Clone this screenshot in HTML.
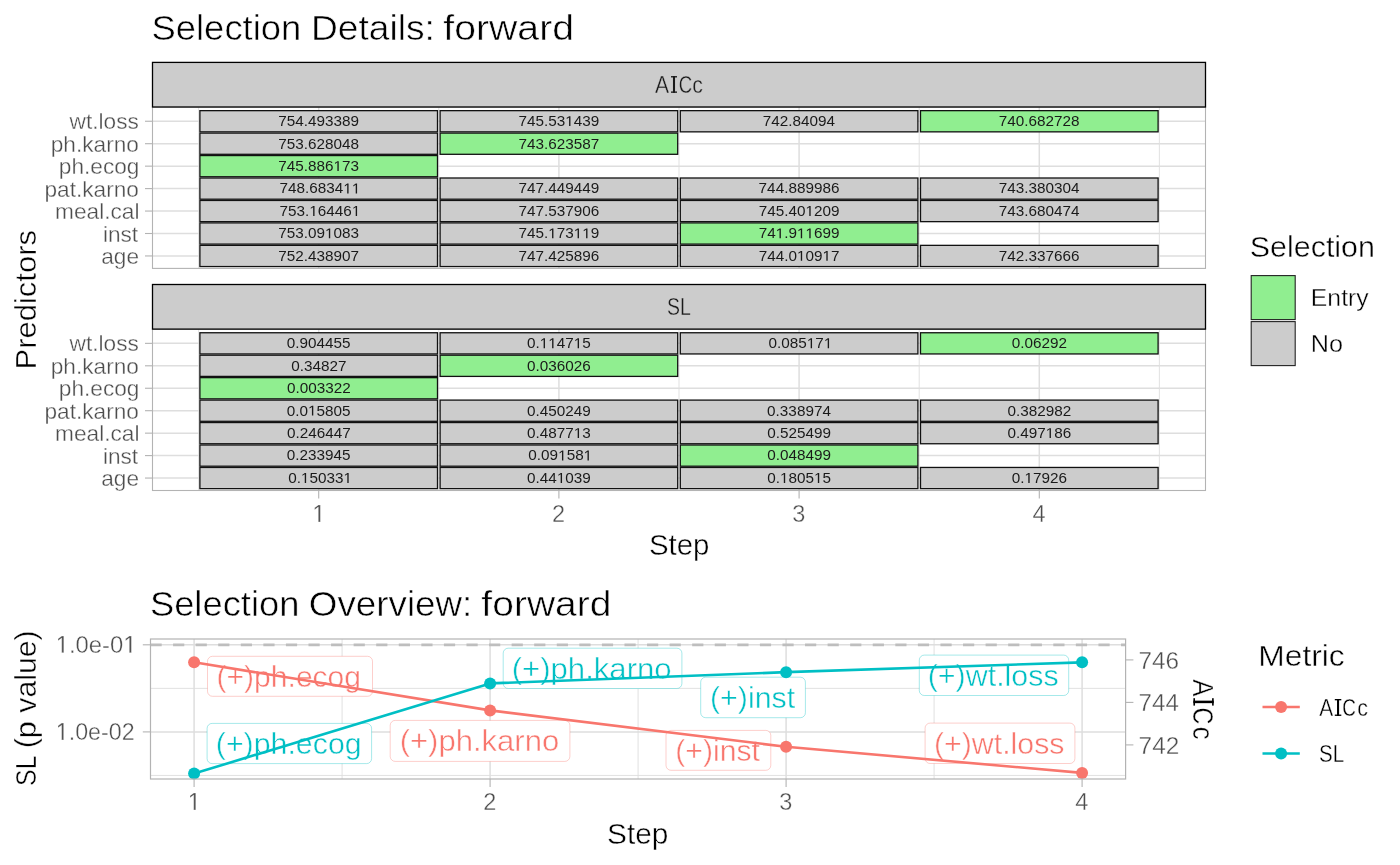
<!DOCTYPE html>
<html><head><meta charset="utf-8"><title>Selection Details</title>
<style>html,body{margin:0;padding:0;background:#fff;width:1400px;height:865px;overflow:hidden}
svg text{font-family:"Liberation Sans",sans-serif;font-kerning:none;white-space:pre}</style>
</head><body>
<svg width="1400" height="865" viewBox="0 0 1400 865" style="position:absolute;left:0;top:0;will-change:transform" font-family="Liberation Sans" >
<rect x="0" y="0" width="1400" height="865" fill="#fff"/>
<text transform="translate(151.45,39.90) scale(1.0266,1)" font-size="35.50" fill="#000" stroke="#fff" stroke-width="0.53">Selection</text>
<text transform="translate(311.05,39.90) scale(1.0462,1)" font-size="35.50" fill="#000" stroke="#fff" stroke-width="0.53">Details:</text>
<text transform="translate(443.35,39.90) scale(1.1040,1)" font-size="35.50" fill="#000" stroke="#fff" stroke-width="0.53">forward</text>
<line x1="152.5" x2="1205.5" y1="121.25" y2="121.25" stroke="#DEDEDE" stroke-width="1.5"/>
<line x1="152.5" x2="1205.5" y1="143.70" y2="143.70" stroke="#DEDEDE" stroke-width="1.5"/>
<line x1="152.5" x2="1205.5" y1="166.15" y2="166.15" stroke="#DEDEDE" stroke-width="1.5"/>
<line x1="152.5" x2="1205.5" y1="188.60" y2="188.60" stroke="#DEDEDE" stroke-width="1.5"/>
<line x1="152.5" x2="1205.5" y1="211.05" y2="211.05" stroke="#DEDEDE" stroke-width="1.5"/>
<line x1="152.5" x2="1205.5" y1="233.50" y2="233.50" stroke="#DEDEDE" stroke-width="1.5"/>
<line x1="152.5" x2="1205.5" y1="255.95" y2="255.95" stroke="#DEDEDE" stroke-width="1.5"/>
<line x1="318.70" x2="318.70" y1="107.0" y2="268.4" stroke="#DEDEDE" stroke-width="1.5"/>
<line x1="558.90" x2="558.90" y1="107.0" y2="268.4" stroke="#DEDEDE" stroke-width="1.5"/>
<line x1="799.10" x2="799.10" y1="107.0" y2="268.4" stroke="#DEDEDE" stroke-width="1.5"/>
<line x1="1039.30" x2="1039.30" y1="107.0" y2="268.4" stroke="#DEDEDE" stroke-width="1.5"/>
<line x1="198.60" x2="198.60" y1="107.0" y2="268.4" stroke="#DEDEDE" stroke-width="0.9"/>
<line x1="438.80" x2="438.80" y1="107.0" y2="268.4" stroke="#DEDEDE" stroke-width="0.9"/>
<line x1="679.00" x2="679.00" y1="107.0" y2="268.4" stroke="#DEDEDE" stroke-width="0.9"/>
<line x1="919.20" x2="919.20" y1="107.0" y2="268.4" stroke="#DEDEDE" stroke-width="0.9"/>
<line x1="1159.40" x2="1159.40" y1="107.0" y2="268.4" stroke="#DEDEDE" stroke-width="0.9"/>
<rect x="199.90" y="110.65" width="237.60" height="21.20" fill="#CCCCCC" stroke="#111" stroke-width="1.3"/>
<rect x="440.10" y="110.65" width="237.60" height="21.20" fill="#CCCCCC" stroke="#111" stroke-width="1.3"/>
<rect x="680.30" y="110.65" width="237.60" height="21.20" fill="#CCCCCC" stroke="#111" stroke-width="1.3"/>
<rect x="920.50" y="110.65" width="237.60" height="21.20" fill="#90EE90" stroke="#111" stroke-width="1.3"/>
<rect x="199.90" y="133.10" width="237.60" height="21.20" fill="#CCCCCC" stroke="#111" stroke-width="1.3"/>
<rect x="440.10" y="133.10" width="237.60" height="21.20" fill="#90EE90" stroke="#111" stroke-width="1.3"/>
<rect x="199.90" y="155.55" width="237.60" height="21.20" fill="#90EE90" stroke="#111" stroke-width="1.3"/>
<rect x="199.90" y="178.00" width="237.60" height="21.20" fill="#CCCCCC" stroke="#111" stroke-width="1.3"/>
<rect x="440.10" y="178.00" width="237.60" height="21.20" fill="#CCCCCC" stroke="#111" stroke-width="1.3"/>
<rect x="680.30" y="178.00" width="237.60" height="21.20" fill="#CCCCCC" stroke="#111" stroke-width="1.3"/>
<rect x="920.50" y="178.00" width="237.60" height="21.20" fill="#CCCCCC" stroke="#111" stroke-width="1.3"/>
<rect x="199.90" y="200.45" width="237.60" height="21.20" fill="#CCCCCC" stroke="#111" stroke-width="1.3"/>
<rect x="440.10" y="200.45" width="237.60" height="21.20" fill="#CCCCCC" stroke="#111" stroke-width="1.3"/>
<rect x="680.30" y="200.45" width="237.60" height="21.20" fill="#CCCCCC" stroke="#111" stroke-width="1.3"/>
<rect x="920.50" y="200.45" width="237.60" height="21.20" fill="#CCCCCC" stroke="#111" stroke-width="1.3"/>
<rect x="199.90" y="222.90" width="237.60" height="21.20" fill="#CCCCCC" stroke="#111" stroke-width="1.3"/>
<rect x="440.10" y="222.90" width="237.60" height="21.20" fill="#CCCCCC" stroke="#111" stroke-width="1.3"/>
<rect x="680.30" y="222.90" width="237.60" height="21.20" fill="#90EE90" stroke="#111" stroke-width="1.3"/>
<rect x="199.90" y="245.35" width="237.60" height="21.20" fill="#CCCCCC" stroke="#111" stroke-width="1.3"/>
<rect x="440.10" y="245.35" width="237.60" height="21.20" fill="#CCCCCC" stroke="#111" stroke-width="1.3"/>
<rect x="680.30" y="245.35" width="237.60" height="21.20" fill="#CCCCCC" stroke="#111" stroke-width="1.3"/>
<rect x="920.50" y="245.35" width="237.60" height="21.20" fill="#CCCCCC" stroke="#111" stroke-width="1.3"/>
<text transform="translate(278.25,126.10) scale(1.0700,1)" font-size="14.30" fill="#1a1a1a">754.493389</text>
<g transform="translate(518.45,126.10) scale(1.0700,1)"><text x="0.00" font-size="14.30" fill="#1a1a1a">745.53</text><path d="M47.33,0.00 L47.33,-8.64 L45.11,-7.05 L45.11,-8.24 L47.44,-9.84 L48.60,-9.84 L48.60,0.00Z" fill="#1a1a1a"/><text x="51.69" font-size="14.30" fill="#1a1a1a">439</text></g>
<text transform="translate(762.77,126.10) scale(1.0700,1)" font-size="14.30" fill="#1a1a1a">742.84094</text>
<text transform="translate(998.82,126.10) scale(1.0700,1)" font-size="14.30" fill="#1a1a1a">740.682728</text>
<text transform="translate(278.22,148.55) scale(1.0700,1)" font-size="14.30" fill="#1a1a1a">753.628048</text>
<text transform="translate(518.47,148.55) scale(1.0700,1)" font-size="14.30" fill="#1a1a1a">743.623587</text>
<g transform="translate(278.22,171.00) scale(1.0700,1)"><text x="0.00" font-size="14.30" fill="#1a1a1a">745.886</text><path d="M55.29,0.00 L55.29,-8.64 L53.07,-7.05 L53.07,-8.24 L55.39,-9.84 L56.55,-9.84 L56.55,0.00Z" fill="#1a1a1a"/><text x="59.64" font-size="14.30" fill="#1a1a1a">73</text></g>
<g transform="translate(279.54,193.45) scale(1.0700,1)"><text x="0.00" font-size="14.30" fill="#1a1a1a">748.6834</text><path d="M63.24,0.00 L63.24,-8.64 L61.02,-7.05 L61.02,-8.24 L63.34,-9.84 L64.50,-9.84 L64.50,0.00Z" fill="#1a1a1a"/><path d="M71.19,0.00 L71.19,-8.64 L68.97,-7.05 L68.97,-8.24 L71.30,-9.84 L72.46,-9.84 L72.46,0.00Z" fill="#1a1a1a"/></g>
<text transform="translate(518.45,193.45) scale(1.0700,1)" font-size="14.30" fill="#1a1a1a">747.449449</text>
<text transform="translate(758.62,193.45) scale(1.0700,1)" font-size="14.30" fill="#1a1a1a">744.889986</text>
<text transform="translate(998.71,193.45) scale(1.0700,1)" font-size="14.30" fill="#1a1a1a">743.380304</text>
<g transform="translate(279.54,215.90) scale(1.0700,1)"><text x="0.00" font-size="14.30" fill="#1a1a1a">753.</text><path d="M31.43,0.00 L31.43,-8.64 L29.21,-7.05 L29.21,-8.24 L31.53,-9.84 L32.69,-9.84 L32.69,0.00Z" fill="#1a1a1a"/><text x="35.78" font-size="14.30" fill="#1a1a1a">6446</text><path d="M71.19,0.00 L71.19,-8.64 L68.97,-7.05 L68.97,-8.24 L71.30,-9.84 L72.46,-9.84 L72.46,0.00Z" fill="#1a1a1a"/></g>
<text transform="translate(518.42,215.90) scale(1.0700,1)" font-size="14.30" fill="#1a1a1a">747.537906</text>
<g transform="translate(758.65,215.90) scale(1.0700,1)"><text x="0.00" font-size="14.30" fill="#1a1a1a">745.40</text><path d="M47.33,0.00 L47.33,-8.64 L45.11,-7.05 L45.11,-8.24 L47.44,-9.84 L48.60,-9.84 L48.60,0.00Z" fill="#1a1a1a"/><text x="51.69" font-size="14.30" fill="#1a1a1a">209</text></g>
<text transform="translate(998.71,215.90) scale(1.0700,1)" font-size="14.30" fill="#1a1a1a">743.680474</text>
<g transform="translate(278.22,238.35) scale(1.0700,1)"><text x="0.00" font-size="14.30" fill="#1a1a1a">753.09</text><path d="M47.33,0.00 L47.33,-8.64 L45.11,-7.05 L45.11,-8.24 L47.44,-9.84 L48.60,-9.84 L48.60,0.00Z" fill="#1a1a1a"/><text x="51.69" font-size="14.30" fill="#1a1a1a">083</text></g>
<g transform="translate(518.45,238.35) scale(1.0700,1)"><text x="0.00" font-size="14.30" fill="#1a1a1a">745.</text><path d="M31.43,0.00 L31.43,-8.64 L29.21,-7.05 L29.21,-8.24 L31.53,-9.84 L32.69,-9.84 L32.69,0.00Z" fill="#1a1a1a"/><text x="35.78" font-size="14.30" fill="#1a1a1a">73</text><path d="M55.29,0.00 L55.29,-8.64 L53.07,-7.05 L53.07,-8.24 L55.39,-9.84 L56.55,-9.84 L56.55,0.00Z" fill="#1a1a1a"/><path d="M63.24,0.00 L63.24,-8.64 L61.02,-7.05 L61.02,-8.24 L63.34,-9.84 L64.50,-9.84 L64.50,0.00Z" fill="#1a1a1a"/><text x="67.60" font-size="14.30" fill="#1a1a1a">9</text></g>
<g transform="translate(758.65,238.35) scale(1.0700,1)"><text x="0.00" font-size="14.30" fill="#1a1a1a">74</text><path d="M19.50,0.00 L19.50,-8.64 L17.28,-7.05 L17.28,-8.24 L19.61,-9.84 L20.77,-9.84 L20.77,0.00Z" fill="#1a1a1a"/><text x="23.86" font-size="14.30" fill="#1a1a1a">.9</text><path d="M39.38,0.00 L39.38,-8.64 L37.16,-7.05 L37.16,-8.24 L39.49,-9.84 L40.64,-9.84 L40.64,0.00Z" fill="#1a1a1a"/><path d="M47.33,0.00 L47.33,-8.64 L45.11,-7.05 L45.11,-8.24 L47.44,-9.84 L48.60,-9.84 L48.60,0.00Z" fill="#1a1a1a"/><text x="51.69" font-size="14.30" fill="#1a1a1a">699</text></g>
<text transform="translate(278.27,260.80) scale(1.0700,1)" font-size="14.30" fill="#1a1a1a">752.438907</text>
<text transform="translate(518.42,260.80) scale(1.0700,1)" font-size="14.30" fill="#1a1a1a">747.425896</text>
<g transform="translate(758.67,260.80) scale(1.0700,1)"><text x="0.00" font-size="14.30" fill="#1a1a1a">744.0</text><path d="M39.38,0.00 L39.38,-8.64 L37.16,-7.05 L37.16,-8.24 L39.49,-9.84 L40.64,-9.84 L40.64,0.00Z" fill="#1a1a1a"/><text x="43.74" font-size="14.30" fill="#1a1a1a">09</text><path d="M63.24,0.00 L63.24,-8.64 L61.02,-7.05 L61.02,-8.24 L63.34,-9.84 L64.50,-9.84 L64.50,0.00Z" fill="#1a1a1a"/><text x="67.60" font-size="14.30" fill="#1a1a1a">7</text></g>
<text transform="translate(998.82,260.80) scale(1.0700,1)" font-size="14.30" fill="#1a1a1a">742.337666</text>
<rect x="152.5" y="107.0" width="1053.0" height="161.39999999999998" fill="none" stroke="#B3B3B3" stroke-width="1.1"/>
<rect x="152.5" y="62.4" width="1053.0" height="44.6" fill="#CCCCCC" stroke="#000" stroke-width="1.3"/>
<g transform="translate(0,92.80)"><text transform="translate(655.02,0) scale(0.8695,1)" font-size="24.30" fill="#1a1a1a" stroke="#CCCCCC" stroke-width="0.36">A</text><rect x="672.97" y="-16.70" width="2.07" height="16.70" fill="#1a1a1a"/><rect x="671.00" y="-16.70" width="6.00" height="1.34" fill="#1a1a1a"/><rect x="671.00" y="-1.34" width="6.00" height="1.34" fill="#1a1a1a"/><text transform="translate(678.65,0) scale(0.7668,1)" font-size="24.30" fill="#1a1a1a" stroke="#CCCCCC" stroke-width="0.36">C</text><text transform="translate(692.19,0) scale(0.8781,1)" font-size="24.30" fill="#1a1a1a" stroke="#CCCCCC" stroke-width="0.36">c</text></g>
<line x1="145.0" x2="152.5" y1="121.25" y2="121.25" stroke="#B3B3B3" stroke-width="1.1"/>
<text transform="translate(69.53,129.25) scale(1.0400,1)" font-size="21.80" fill="#4D4D4D" stroke="#fff" stroke-width="0.33">wt.loss</text>
<line x1="145.0" x2="152.5" y1="143.70" y2="143.70" stroke="#B3B3B3" stroke-width="1.1"/>
<text transform="translate(50.72,151.70) scale(1.0400,1)" font-size="21.80" fill="#4D4D4D" stroke="#fff" stroke-width="0.33">ph.karno</text>
<line x1="145.0" x2="152.5" y1="166.15" y2="166.15" stroke="#B3B3B3" stroke-width="1.1"/>
<text transform="translate(58.78,174.15) scale(1.0400,1)" font-size="21.80" fill="#4D4D4D" stroke="#fff" stroke-width="0.33">ph.ecog</text>
<line x1="145.0" x2="152.5" y1="188.60" y2="188.60" stroke="#B3B3B3" stroke-width="1.1"/>
<text transform="translate(44.42,196.60) scale(1.0400,1)" font-size="21.80" fill="#4D4D4D" stroke="#fff" stroke-width="0.33">pat.karno</text>
<line x1="145.0" x2="152.5" y1="211.05" y2="211.05" stroke="#B3B3B3" stroke-width="1.1"/>
<text transform="translate(55.09,219.05) scale(1.0400,1)" font-size="21.80" fill="#4D4D4D" stroke="#fff" stroke-width="0.33">meal.cal</text>
<line x1="145.0" x2="152.5" y1="233.50" y2="233.50" stroke="#B3B3B3" stroke-width="1.1"/>
<text transform="translate(102.88,241.50) scale(1.0400,1)" font-size="21.80" fill="#4D4D4D" stroke="#fff" stroke-width="0.33">inst</text>
<line x1="145.0" x2="152.5" y1="255.95" y2="255.95" stroke="#B3B3B3" stroke-width="1.1"/>
<text transform="translate(101.18,263.95) scale(1.0400,1)" font-size="21.80" fill="#4D4D4D" stroke="#fff" stroke-width="0.33">age</text>
<line x1="152.5" x2="1205.5" y1="343.35" y2="343.35" stroke="#DEDEDE" stroke-width="1.5"/>
<line x1="152.5" x2="1205.5" y1="365.80" y2="365.80" stroke="#DEDEDE" stroke-width="1.5"/>
<line x1="152.5" x2="1205.5" y1="388.25" y2="388.25" stroke="#DEDEDE" stroke-width="1.5"/>
<line x1="152.5" x2="1205.5" y1="410.70" y2="410.70" stroke="#DEDEDE" stroke-width="1.5"/>
<line x1="152.5" x2="1205.5" y1="433.15" y2="433.15" stroke="#DEDEDE" stroke-width="1.5"/>
<line x1="152.5" x2="1205.5" y1="455.60" y2="455.60" stroke="#DEDEDE" stroke-width="1.5"/>
<line x1="152.5" x2="1205.5" y1="478.05" y2="478.05" stroke="#DEDEDE" stroke-width="1.5"/>
<line x1="318.70" x2="318.70" y1="329.1" y2="490.5" stroke="#DEDEDE" stroke-width="1.5"/>
<line x1="558.90" x2="558.90" y1="329.1" y2="490.5" stroke="#DEDEDE" stroke-width="1.5"/>
<line x1="799.10" x2="799.10" y1="329.1" y2="490.5" stroke="#DEDEDE" stroke-width="1.5"/>
<line x1="1039.30" x2="1039.30" y1="329.1" y2="490.5" stroke="#DEDEDE" stroke-width="1.5"/>
<line x1="198.60" x2="198.60" y1="329.1" y2="490.5" stroke="#DEDEDE" stroke-width="0.9"/>
<line x1="438.80" x2="438.80" y1="329.1" y2="490.5" stroke="#DEDEDE" stroke-width="0.9"/>
<line x1="679.00" x2="679.00" y1="329.1" y2="490.5" stroke="#DEDEDE" stroke-width="0.9"/>
<line x1="919.20" x2="919.20" y1="329.1" y2="490.5" stroke="#DEDEDE" stroke-width="0.9"/>
<line x1="1159.40" x2="1159.40" y1="329.1" y2="490.5" stroke="#DEDEDE" stroke-width="0.9"/>
<rect x="199.90" y="332.75" width="237.60" height="21.20" fill="#CCCCCC" stroke="#111" stroke-width="1.3"/>
<rect x="440.10" y="332.75" width="237.60" height="21.20" fill="#CCCCCC" stroke="#111" stroke-width="1.3"/>
<rect x="680.30" y="332.75" width="237.60" height="21.20" fill="#CCCCCC" stroke="#111" stroke-width="1.3"/>
<rect x="920.50" y="332.75" width="237.60" height="21.20" fill="#90EE90" stroke="#111" stroke-width="1.3"/>
<rect x="199.90" y="355.20" width="237.60" height="21.20" fill="#CCCCCC" stroke="#111" stroke-width="1.3"/>
<rect x="440.10" y="355.20" width="237.60" height="21.20" fill="#90EE90" stroke="#111" stroke-width="1.3"/>
<rect x="199.90" y="377.65" width="237.60" height="21.20" fill="#90EE90" stroke="#111" stroke-width="1.3"/>
<rect x="199.90" y="400.10" width="237.60" height="21.20" fill="#CCCCCC" stroke="#111" stroke-width="1.3"/>
<rect x="440.10" y="400.10" width="237.60" height="21.20" fill="#CCCCCC" stroke="#111" stroke-width="1.3"/>
<rect x="680.30" y="400.10" width="237.60" height="21.20" fill="#CCCCCC" stroke="#111" stroke-width="1.3"/>
<rect x="920.50" y="400.10" width="237.60" height="21.20" fill="#CCCCCC" stroke="#111" stroke-width="1.3"/>
<rect x="199.90" y="422.55" width="237.60" height="21.20" fill="#CCCCCC" stroke="#111" stroke-width="1.3"/>
<rect x="440.10" y="422.55" width="237.60" height="21.20" fill="#CCCCCC" stroke="#111" stroke-width="1.3"/>
<rect x="680.30" y="422.55" width="237.60" height="21.20" fill="#CCCCCC" stroke="#111" stroke-width="1.3"/>
<rect x="920.50" y="422.55" width="237.60" height="21.20" fill="#CCCCCC" stroke="#111" stroke-width="1.3"/>
<rect x="199.90" y="445.00" width="237.60" height="21.20" fill="#CCCCCC" stroke="#111" stroke-width="1.3"/>
<rect x="440.10" y="445.00" width="237.60" height="21.20" fill="#CCCCCC" stroke="#111" stroke-width="1.3"/>
<rect x="680.30" y="445.00" width="237.60" height="21.20" fill="#90EE90" stroke="#111" stroke-width="1.3"/>
<rect x="199.90" y="467.45" width="237.60" height="21.20" fill="#CCCCCC" stroke="#111" stroke-width="1.3"/>
<rect x="440.10" y="467.45" width="237.60" height="21.20" fill="#CCCCCC" stroke="#111" stroke-width="1.3"/>
<rect x="680.30" y="467.45" width="237.60" height="21.20" fill="#CCCCCC" stroke="#111" stroke-width="1.3"/>
<rect x="920.50" y="467.45" width="237.60" height="21.20" fill="#CCCCCC" stroke="#111" stroke-width="1.3"/>
<text transform="translate(286.81,348.20) scale(1.0700,1)" font-size="14.30" fill="#1a1a1a">0.904455</text>
<g transform="translate(527.01,348.20) scale(1.0700,1)"><text x="0.00" font-size="14.30" fill="#1a1a1a">0.</text><path d="M15.52,0.00 L15.52,-8.64 L13.30,-7.05 L13.30,-8.24 L15.63,-9.84 L16.79,-9.84 L16.79,0.00Z" fill="#1a1a1a"/><path d="M23.47,0.00 L23.47,-8.64 L21.25,-7.05 L21.25,-8.24 L23.58,-9.84 L24.74,-9.84 L24.74,0.00Z" fill="#1a1a1a"/><text x="27.83" font-size="14.30" fill="#1a1a1a">47</text><path d="M47.33,0.00 L47.33,-8.64 L45.11,-7.05 L45.11,-8.24 L47.44,-9.84 L48.60,-9.84 L48.60,0.00Z" fill="#1a1a1a"/><text x="51.69" font-size="14.30" fill="#1a1a1a">5</text></g>
<g transform="translate(768.55,348.20) scale(1.0700,1)"><text x="0.00" font-size="14.30" fill="#1a1a1a">0.085</text><path d="M39.38,0.00 L39.38,-8.64 L37.16,-7.05 L37.16,-8.24 L39.49,-9.84 L40.64,-9.84 L40.64,0.00Z" fill="#1a1a1a"/><text x="43.74" font-size="14.30" fill="#1a1a1a">7</text><path d="M55.29,0.00 L55.29,-8.64 L53.07,-7.05 L53.07,-8.24 L55.39,-9.84 L56.55,-9.84 L56.55,0.00Z" fill="#1a1a1a"/></g>
<text transform="translate(1011.73,348.20) scale(1.0700,1)" font-size="14.30" fill="#1a1a1a">0.06292</text>
<text transform="translate(291.13,370.65) scale(1.0700,1)" font-size="14.30" fill="#1a1a1a">0.34827</text>
<text transform="translate(527.03,370.65) scale(1.0700,1)" font-size="14.30" fill="#1a1a1a">0.036026</text>
<text transform="translate(286.88,393.10) scale(1.0700,1)" font-size="14.30" fill="#1a1a1a">0.003322</text>
<g transform="translate(286.81,415.55) scale(1.0700,1)"><text x="0.00" font-size="14.30" fill="#1a1a1a">0.0</text><path d="M23.47,0.00 L23.47,-8.64 L21.25,-7.05 L21.25,-8.24 L23.58,-9.84 L24.74,-9.84 L24.74,0.00Z" fill="#1a1a1a"/><text x="27.83" font-size="14.30" fill="#1a1a1a">5805</text></g>
<text transform="translate(527.05,415.55) scale(1.0700,1)" font-size="14.30" fill="#1a1a1a">0.450249</text>
<text transform="translate(767.12,415.55) scale(1.0700,1)" font-size="14.30" fill="#1a1a1a">0.338974</text>
<text transform="translate(1007.48,415.55) scale(1.0700,1)" font-size="14.30" fill="#1a1a1a">0.382982</text>
<text transform="translate(286.88,438.00) scale(1.0700,1)" font-size="14.30" fill="#1a1a1a">0.246447</text>
<g transform="translate(527.03,438.00) scale(1.0700,1)"><text x="0.00" font-size="14.30" fill="#1a1a1a">0.4877</text><path d="M47.33,0.00 L47.33,-8.64 L45.11,-7.05 L45.11,-8.24 L47.44,-9.84 L48.60,-9.84 L48.60,0.00Z" fill="#1a1a1a"/><text x="51.69" font-size="14.30" fill="#1a1a1a">3</text></g>
<text transform="translate(767.25,438.00) scale(1.0700,1)" font-size="14.30" fill="#1a1a1a">0.525499</text>
<g transform="translate(1007.43,438.00) scale(1.0700,1)"><text x="0.00" font-size="14.30" fill="#1a1a1a">0.497</text><path d="M39.38,0.00 L39.38,-8.64 L37.16,-7.05 L37.16,-8.24 L39.49,-9.84 L40.64,-9.84 L40.64,0.00Z" fill="#1a1a1a"/><text x="43.74" font-size="14.30" fill="#1a1a1a">86</text></g>
<text transform="translate(286.81,460.45) scale(1.0700,1)" font-size="14.30" fill="#1a1a1a">0.233945</text>
<g transform="translate(528.35,460.45) scale(1.0700,1)"><text x="0.00" font-size="14.30" fill="#1a1a1a">0.09</text><path d="M31.43,0.00 L31.43,-8.64 L29.21,-7.05 L29.21,-8.24 L31.53,-9.84 L32.69,-9.84 L32.69,0.00Z" fill="#1a1a1a"/><text x="35.78" font-size="14.30" fill="#1a1a1a">58</text><path d="M55.29,0.00 L55.29,-8.64 L53.07,-7.05 L53.07,-8.24 L55.39,-9.84 L56.55,-9.84 L56.55,0.00Z" fill="#1a1a1a"/></g>
<text transform="translate(767.25,460.45) scale(1.0700,1)" font-size="14.30" fill="#1a1a1a">0.048499</text>
<g transform="translate(288.15,482.90) scale(1.0700,1)"><text x="0.00" font-size="14.30" fill="#1a1a1a">0.</text><path d="M15.52,0.00 L15.52,-8.64 L13.30,-7.05 L13.30,-8.24 L15.63,-9.84 L16.79,-9.84 L16.79,0.00Z" fill="#1a1a1a"/><text x="19.88" font-size="14.30" fill="#1a1a1a">5033</text><path d="M55.29,0.00 L55.29,-8.64 L53.07,-7.05 L53.07,-8.24 L55.39,-9.84 L56.55,-9.84 L56.55,0.00Z" fill="#1a1a1a"/></g>
<g transform="translate(527.05,482.90) scale(1.0700,1)"><text x="0.00" font-size="14.30" fill="#1a1a1a">0.44</text><path d="M31.43,0.00 L31.43,-8.64 L29.21,-7.05 L29.21,-8.24 L31.53,-9.84 L32.69,-9.84 L32.69,0.00Z" fill="#1a1a1a"/><text x="35.78" font-size="14.30" fill="#1a1a1a">039</text></g>
<g transform="translate(767.21,482.90) scale(1.0700,1)"><text x="0.00" font-size="14.30" fill="#1a1a1a">0.</text><path d="M15.52,0.00 L15.52,-8.64 L13.30,-7.05 L13.30,-8.24 L15.63,-9.84 L16.79,-9.84 L16.79,0.00Z" fill="#1a1a1a"/><text x="19.88" font-size="14.30" fill="#1a1a1a">805</text><path d="M47.33,0.00 L47.33,-8.64 L45.11,-7.05 L45.11,-8.24 L47.44,-9.84 L48.60,-9.84 L48.60,0.00Z" fill="#1a1a1a"/><text x="51.69" font-size="14.30" fill="#1a1a1a">5</text></g>
<g transform="translate(1011.68,482.90) scale(1.0700,1)"><text x="0.00" font-size="14.30" fill="#1a1a1a">0.</text><path d="M15.52,0.00 L15.52,-8.64 L13.30,-7.05 L13.30,-8.24 L15.63,-9.84 L16.79,-9.84 L16.79,0.00Z" fill="#1a1a1a"/><text x="19.88" font-size="14.30" fill="#1a1a1a">7926</text></g>
<rect x="152.5" y="329.1" width="1053.0" height="161.39999999999998" fill="none" stroke="#B3B3B3" stroke-width="1.1"/>
<rect x="152.5" y="284.5" width="1053.0" height="44.60000000000002" fill="#CCCCCC" stroke="#000" stroke-width="1.3"/>
<text transform="translate(666.97,315.00) scale(0.7888,1)" font-size="24.70" fill="#1a1a1a" stroke="#CCCCCC" stroke-width="0.37">SL</text>
<line x1="145.0" x2="152.5" y1="343.35" y2="343.35" stroke="#B3B3B3" stroke-width="1.1"/>
<text transform="translate(69.53,351.35) scale(1.0400,1)" font-size="21.80" fill="#4D4D4D" stroke="#fff" stroke-width="0.33">wt.loss</text>
<line x1="145.0" x2="152.5" y1="365.80" y2="365.80" stroke="#B3B3B3" stroke-width="1.1"/>
<text transform="translate(50.72,373.80) scale(1.0400,1)" font-size="21.80" fill="#4D4D4D" stroke="#fff" stroke-width="0.33">ph.karno</text>
<line x1="145.0" x2="152.5" y1="388.25" y2="388.25" stroke="#B3B3B3" stroke-width="1.1"/>
<text transform="translate(58.78,396.25) scale(1.0400,1)" font-size="21.80" fill="#4D4D4D" stroke="#fff" stroke-width="0.33">ph.ecog</text>
<line x1="145.0" x2="152.5" y1="410.70" y2="410.70" stroke="#B3B3B3" stroke-width="1.1"/>
<text transform="translate(44.42,418.70) scale(1.0400,1)" font-size="21.80" fill="#4D4D4D" stroke="#fff" stroke-width="0.33">pat.karno</text>
<line x1="145.0" x2="152.5" y1="433.15" y2="433.15" stroke="#B3B3B3" stroke-width="1.1"/>
<text transform="translate(55.09,441.15) scale(1.0400,1)" font-size="21.80" fill="#4D4D4D" stroke="#fff" stroke-width="0.33">meal.cal</text>
<line x1="145.0" x2="152.5" y1="455.60" y2="455.60" stroke="#B3B3B3" stroke-width="1.1"/>
<text transform="translate(102.88,463.60) scale(1.0400,1)" font-size="21.80" fill="#4D4D4D" stroke="#fff" stroke-width="0.33">inst</text>
<line x1="145.0" x2="152.5" y1="478.05" y2="478.05" stroke="#B3B3B3" stroke-width="1.1"/>
<text transform="translate(101.18,486.05) scale(1.0400,1)" font-size="21.80" fill="#4D4D4D" stroke="#fff" stroke-width="0.33">age</text>
<line x1="318.70" x2="318.70" y1="490.5" y2="498.5" stroke="#B3B3B3" stroke-width="1.1"/>
<g transform="translate(312.36,522.00) scale(0.9500,1)"><path d="M6.24,0.00 L6.24,-14.98 L2.39,-12.23 L2.39,-14.29 L6.42,-17.06 L8.43,-17.06 L8.43,0.00Z" fill="#4D4D4D" stroke="#fff" stroke-width="0.37"/></g>
<line x1="558.90" x2="558.90" y1="490.5" y2="498.5" stroke="#B3B3B3" stroke-width="1.1"/>
<text transform="translate(551.95,522.00) scale(0.9500,1)" font-size="24.80" fill="#4D4D4D" stroke="#fff" stroke-width="0.37">2</text>
<line x1="799.10" x2="799.10" y1="490.5" y2="498.5" stroke="#B3B3B3" stroke-width="1.1"/>
<text transform="translate(792.22,522.00) scale(0.9500,1)" font-size="24.80" fill="#4D4D4D" stroke="#fff" stroke-width="0.37">3</text>
<line x1="1039.30" x2="1039.30" y1="490.5" y2="498.5" stroke="#B3B3B3" stroke-width="1.1"/>
<text transform="translate(1032.42,522.00) scale(0.9500,1)" font-size="24.80" fill="#4D4D4D" stroke="#fff" stroke-width="0.37">4</text>
<text transform="translate(648.91,555.30) scale(0.9815,1)" font-size="30.00" fill="#000" stroke="#fff" stroke-width="0.45">Step</text>
<g transform="translate(35.80,299.00) rotate(-90) translate(-70.44,0) scale(1.0327,1)"><text font-size="30.00" fill="#000" stroke="#fff" stroke-width="0.45">Predictors</text></g>
<text transform="translate(1249.82,256.80) scale(1.0074,1)" font-size="30.20" fill="#000" stroke="#fff" stroke-width="0.45">Selection</text>
<rect x="1251.2" y="275.6" width="44.0" height="44.0" fill="#90EE90" stroke="#222" stroke-width="1.1"/>
<rect x="1251.2" y="321.6" width="44.0" height="44.0" fill="#CCCCCC" stroke="#222" stroke-width="1.1"/>
<text transform="translate(1310.87,305.90) scale(1.0104,1)" font-size="24.50" fill="#000" stroke="#fff" stroke-width="0.37">Entry</text>
<text transform="translate(1310.83,351.70) scale(1.0290,1)" font-size="24.50" fill="#000" stroke="#fff" stroke-width="0.37">No</text>
<text transform="translate(149.95,615.70) scale(1.0231,1)" font-size="35.50" fill="#000" stroke="#fff" stroke-width="0.53">Selection</text>
<text transform="translate(308.86,615.70) scale(1.0361,1)" font-size="35.50" fill="#000" stroke="#fff" stroke-width="0.53">Overview:</text>
<text transform="translate(481.35,615.70) scale(1.0996,1)" font-size="35.50" fill="#000" stroke="#fff" stroke-width="0.53">forward</text>
<line x1="150.5" x2="1125.6" y1="644.80" y2="644.80" stroke="#DEDEDE" stroke-width="1.5"/>
<line x1="150.5" x2="1125.6" y1="731.90" y2="731.90" stroke="#DEDEDE" stroke-width="1.5"/>
<line x1="150.5" x2="1125.6" y1="688.35" y2="688.35" stroke="#DEDEDE" stroke-width="0.9"/>
<line x1="150.5" x2="1125.6" y1="775.45" y2="775.45" stroke="#DEDEDE" stroke-width="0.9"/>
<line x1="194.10" x2="194.10" y1="639.0" y2="779.0" stroke="#DEDEDE" stroke-width="1.5"/>
<line x1="490.10" x2="490.10" y1="639.0" y2="779.0" stroke="#DEDEDE" stroke-width="1.5"/>
<line x1="786.10" x2="786.10" y1="639.0" y2="779.0" stroke="#DEDEDE" stroke-width="1.5"/>
<line x1="1082.10" x2="1082.10" y1="639.0" y2="779.0" stroke="#DEDEDE" stroke-width="1.5"/>
<line x1="342.10" x2="342.10" y1="639.0" y2="779.0" stroke="#DEDEDE" stroke-width="0.9"/>
<line x1="638.10" x2="638.10" y1="639.0" y2="779.0" stroke="#DEDEDE" stroke-width="0.9"/>
<line x1="934.10" x2="934.10" y1="639.0" y2="779.0" stroke="#DEDEDE" stroke-width="0.9"/>
<line x1="150.5" x2="1125.6" y1="644.8" y2="644.8" stroke="#BEBEBE" stroke-width="2.8" stroke-dasharray="11.2 11.37"/>
<rect x="207.1" y="723.4" width="164.50" height="40.20" rx="5" ry="5" fill="#fff" stroke="#00BFC4" stroke-opacity="0.35" stroke-width="1"/>
<text transform="translate(215.82,753.60) scale(1.0281,1)" font-size="29.50" fill="#00BFC4" stroke="#fff" stroke-width="0.44">(+)ph.ecog</text>
<rect x="503.2" y="648.2" width="178.70" height="40.30" rx="5" ry="5" fill="#fff" stroke="#00BFC4" stroke-opacity="0.35" stroke-width="1"/>
<text transform="translate(511.67,678.60) scale(1.0551,1)" font-size="29.50" fill="#00BFC4" stroke="#fff" stroke-width="0.44">(+)ph.karno</text>
<rect x="700.7" y="677.2" width="104.70" height="40.50" rx="5" ry="5" fill="#fff" stroke="#00BFC4" stroke-opacity="0.35" stroke-width="1"/>
<text transform="translate(709.91,707.80) scale(1.0305,1)" font-size="29.50" fill="#00BFC4" stroke="#fff" stroke-width="0.44">(+)inst</text>
<rect x="919.3" y="655.1" width="149.40" height="40.40" rx="5" ry="5" fill="#fff" stroke="#00BFC4" stroke-opacity="0.35" stroke-width="1"/>
<text transform="translate(927.71,685.70) scale(1.0311,1)" font-size="29.50" fill="#00BFC4" stroke="#fff" stroke-width="0.44">(+)wt.loss</text>
<rect x="207.5" y="656.3" width="165.00" height="40.00" rx="5" ry="5" fill="#fff" stroke="#F8766D" stroke-opacity="0.35" stroke-width="1"/>
<text transform="translate(216.54,686.80) scale(1.0194,1)" font-size="29.50" fill="#F8766D" stroke="#fff" stroke-width="0.44">(+)ph.ecog</text>
<rect x="390.2" y="720.4" width="179.70" height="41.00" rx="5" ry="5" fill="#fff" stroke="#F8766D" stroke-opacity="0.35" stroke-width="1"/>
<text transform="translate(399.67,751.00) scale(1.0524,1)" font-size="29.50" fill="#F8766D" stroke="#fff" stroke-width="0.44">(+)ph.karno</text>
<rect x="666.0" y="730.4" width="104.80" height="39.90" rx="5" ry="5" fill="#fff" stroke="#F8766D" stroke-opacity="0.35" stroke-width="1"/>
<text transform="translate(675.23,760.80) scale(1.0231,1)" font-size="29.50" fill="#F8766D" stroke="#fff" stroke-width="0.44">(+)inst</text>
<rect x="925.1" y="723.1" width="149.80" height="40.40" rx="5" ry="5" fill="#fff" stroke="#F8766D" stroke-opacity="0.35" stroke-width="1"/>
<text transform="translate(933.92,754.00) scale(1.0279,1)" font-size="29.50" fill="#F8766D" stroke="#fff" stroke-width="0.44">(+)wt.loss</text>
<polyline points="194.10,662.32 490.10,710.40 786.10,746.78 1082.10,772.89" fill="none" stroke="#F8766D" stroke-width="2.6" stroke-linejoin="round"/>
<polyline points="194.10,773.59 490.10,683.42 786.10,672.17 1082.10,662.33" fill="none" stroke="#00BFC4" stroke-width="2.6" stroke-linejoin="round"/>
<circle cx="194.10" cy="662.32" r="6" fill="#F8766D"/>
<circle cx="490.10" cy="710.40" r="6" fill="#F8766D"/>
<circle cx="786.10" cy="746.78" r="6" fill="#F8766D"/>
<circle cx="1082.10" cy="772.89" r="6" fill="#F8766D"/>
<circle cx="194.10" cy="773.59" r="6" fill="#00BFC4"/>
<circle cx="490.10" cy="683.42" r="6" fill="#00BFC4"/>
<circle cx="786.10" cy="672.17" r="6" fill="#00BFC4"/>
<circle cx="1082.10" cy="662.33" r="6" fill="#00BFC4"/>
<rect x="150.5" y="639.0" width="975.10" height="140.00" fill="none" stroke="#B3B3B3" stroke-width="1.2"/>
<line x1="142.8" x2="150.5" y1="644.80" y2="644.80" stroke="#B3B3B3" stroke-width="1.1"/>
<g transform="translate(55.71,652.80) scale(0.9770,1)"><path d="M6.14,0.00 L6.14,-14.74 L2.35,-12.03 L2.35,-14.06 L6.31,-16.79 L8.29,-16.79 L8.29,0.00Z" fill="#4D4D4D" stroke="#fff" stroke-width="0.37"/><text x="13.57" font-size="24.40" fill="#4D4D4D" stroke="#fff" stroke-width="0.37">.0e-0</text><path d="M75.32,0.00 L75.32,-14.74 L71.53,-12.03 L71.53,-14.06 L75.50,-16.79 L77.48,-16.79 L77.48,0.00Z" fill="#4D4D4D" stroke="#fff" stroke-width="0.37"/></g>
<line x1="142.8" x2="150.5" y1="731.90" y2="731.90" stroke="#B3B3B3" stroke-width="1.1"/>
<g transform="translate(55.77,739.90) scale(0.9523,1)"><path d="M6.14,0.00 L6.14,-14.74 L2.35,-12.03 L2.35,-14.06 L6.31,-16.79 L8.29,-16.79 L8.29,0.00Z" fill="#4D4D4D" stroke="#fff" stroke-width="0.37"/><text x="13.57" font-size="24.40" fill="#4D4D4D" stroke="#fff" stroke-width="0.37">.0e-02</text></g>
<line x1="1125.6" x2="1133.4" y1="659.90" y2="659.90" stroke="#B3B3B3" stroke-width="1.1"/>
<text transform="translate(1138.55,668.80) scale(0.9977,1)" font-size="24.40" fill="#4D4D4D" stroke="#fff" stroke-width="0.37">746</text>
<line x1="1125.6" x2="1133.4" y1="702.40" y2="702.40" stroke="#B3B3B3" stroke-width="1.1"/>
<text transform="translate(1138.56,711.30) scale(0.9885,1)" font-size="24.40" fill="#4D4D4D" stroke="#fff" stroke-width="0.37">744</text>
<line x1="1125.6" x2="1133.4" y1="744.90" y2="744.90" stroke="#B3B3B3" stroke-width="1.1"/>
<text transform="translate(1138.55,753.80) scale(1.0018,1)" font-size="24.40" fill="#4D4D4D" stroke="#fff" stroke-width="0.37">742</text>
<line x1="194.10" x2="194.10" y1="779.0" y2="787.0" stroke="#B3B3B3" stroke-width="1.1"/>
<g transform="translate(187.76,810.00) scale(0.9500,1)"><path d="M6.24,0.00 L6.24,-14.98 L2.39,-12.23 L2.39,-14.29 L6.42,-17.06 L8.43,-17.06 L8.43,0.00Z" fill="#4D4D4D" stroke="#fff" stroke-width="0.37"/></g>
<line x1="490.10" x2="490.10" y1="779.0" y2="787.0" stroke="#B3B3B3" stroke-width="1.1"/>
<text transform="translate(483.15,810.00) scale(0.9500,1)" font-size="24.80" fill="#4D4D4D" stroke="#fff" stroke-width="0.37">2</text>
<line x1="786.10" x2="786.10" y1="779.0" y2="787.0" stroke="#B3B3B3" stroke-width="1.1"/>
<text transform="translate(779.22,810.00) scale(0.9500,1)" font-size="24.80" fill="#4D4D4D" stroke="#fff" stroke-width="0.37">3</text>
<line x1="1082.10" x2="1082.10" y1="779.0" y2="787.0" stroke="#B3B3B3" stroke-width="1.1"/>
<text transform="translate(1075.22,810.00) scale(0.9500,1)" font-size="24.80" fill="#4D4D4D" stroke="#fff" stroke-width="0.37">4</text>
<text transform="translate(607.05,843.50) scale(0.9934,1)" font-size="30.00" fill="#000" stroke="#fff" stroke-width="0.45">Step</text>
<g transform="translate(35.80,770.55) rotate(-90) translate(-15.38,0) scale(0.8300,1)"><text font-size="30.00" fill="#000" stroke="#fff" stroke-width="0.45">SL</text></g>
<g transform="translate(35.80,734.45) rotate(-90) translate(-13.84,0) scale(1.0147,1)"><text font-size="30.00" fill="#000" stroke="#fff" stroke-width="0.45">(p</text></g>
<g transform="translate(35.80,672.40) rotate(-90) translate(-40.30,0) scale(1.0082,1)"><text font-size="30.00" fill="#000" stroke="#fff" stroke-width="0.45">value)</text></g>
<g transform="translate(1193.4,679.2) rotate(90)"><text transform="translate(-0.05,0) scale(0.8742,1)" font-size="29.50" fill="#000" stroke="#fff" stroke-width="0.44">A</text><rect x="21.45" y="-20.30" width="2.51" height="20.30" fill="#000"/><rect x="19.00" y="-20.30" width="7.40" height="1.62" fill="#000"/><rect x="19.00" y="-1.62" width="7.40" height="1.62" fill="#000"/><text transform="translate(28.41,0) scale(0.7922,1)" font-size="29.50" fill="#000" stroke="#fff" stroke-width="0.44">C</text><text transform="translate(47.51,0) scale(0.8727,1)" font-size="29.50" fill="#000" stroke="#fff" stroke-width="0.44">c</text></g>
<text transform="translate(1258.30,665.90) scale(1.0480,1)" font-size="30.30" fill="#000" stroke="#fff" stroke-width="0.45">Metric</text>
<line x1="1262.5" x2="1299.8" y1="707.1" y2="707.1" stroke="#F8766D" stroke-width="2.5"/>
<circle cx="1281.1" cy="707.1" r="6" fill="#F8766D"/>
<g transform="translate(0,715.9)"><text transform="translate(1319.21,0) scale(0.8596,1)" font-size="24.30" fill="#000" stroke="#fff" stroke-width="0.36">A</text><rect x="1337.02" y="-16.90" width="2.07" height="16.90" fill="#000"/><rect x="1334.80" y="-16.90" width="6.50" height="1.34" fill="#000"/><rect x="1334.80" y="-1.34" width="6.50" height="1.34" fill="#000"/><text transform="translate(1342.34,0) scale(0.7798,1)" font-size="24.30" fill="#000" stroke="#fff" stroke-width="0.36">C</text><text transform="translate(1357.18,0) scale(0.8877,1)" font-size="24.30" fill="#000" stroke="#fff" stroke-width="0.36">c</text></g>
<line x1="1262.5" x2="1299.8" y1="753.4" y2="753.4" stroke="#00BFC4" stroke-width="2.5"/>
<circle cx="1281.1" cy="753.4" r="6" fill="#00BFC4"/>
<text transform="translate(1319.07,761.90) scale(0.8347,1)" font-size="24.60" fill="#000" stroke="#fff" stroke-width="0.37">SL</text>
</svg>
</body></html>
